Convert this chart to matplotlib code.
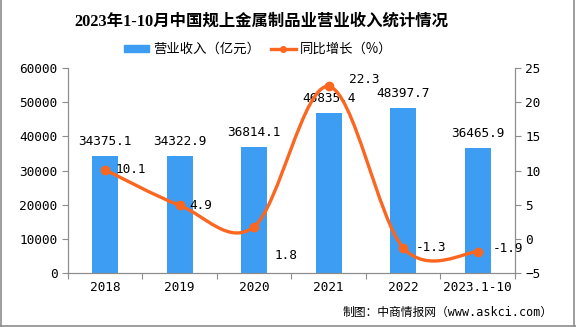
import matplotlib
matplotlib.use('Agg')
import matplotlib.pyplot as plt
from matplotlib.path import Path
from matplotlib.patches import PathPatch, Rectangle
from matplotlib.lines import Line2D

# 数据
years = ['2018', '2019', '2020', '2021', '2022', '2023.1-10']
revenue = [34375.1, 34322.9, 36814.1, 46835.4, 48397.7, 36465.9]
growth = [10.1, 4.9, 1.8, 22.3, -1.3, -1.9]
# 增长率标签偏移（像素）
growth_offsets = [(10, 0), (10, 0), (20, -29), (20, 7), (13, 0), (15, 3)]

BLUE = '#3d9df2'
ORANGE = '#fb6620'
GRAY = '#8c8c8c'
NUM = ['DejaVu Sans Mono', 'Noto Sans CJK SC']
CJK = ['Noto Sans CJK SC', 'DejaVu Sans']

fig = plt.figure(figsize=(5.76, 3.27), dpi=100)
ax = fig.add_axes([0.118, 0.165, 0.776, 0.627])
ax2 = ax.twinx()

x = list(range(len(years)))
ax.bar(x, revenue, width=0.35, color=BLUE, zorder=2)
ax.set_xlim(-0.5, len(years) - 0.5)
ax.set_ylim(0, 60000)
ax.set_yticks(range(0, 60001, 10000))
ax2.set_ylim(-5, 25)
ax2.set_yticks(range(-5, 26, 5))

for xi, v in zip(x, revenue):
    ax.annotate(f'{v:.1f}', (xi, v), xytext=(0, 8), textcoords='offset pixels',
                ha='center', va='bottom', fontsize=9.2, family=NUM)

# 平滑曲线 (Catmull-Rom -> 贝塞尔)
n = len(growth)
verts = [(x[0], growth[0])]
codes = [Path.MOVETO]
for i in range(n - 1):
    p0 = (x[max(i - 1, 0)], growth[max(i - 1, 0)])
    p1 = (x[i], growth[i])
    p2 = (x[i + 1], growth[i + 1])
    p3 = (x[min(i + 2, n - 1)], growth[min(i + 2, n - 1)])
    c1 = (p1[0] + (p2[0] - p0[0]) / 6, p1[1] + (p2[1] - p0[1]) / 6)
    c2 = (p2[0] - (p3[0] - p1[0]) / 6, p2[1] - (p3[1] - p1[1]) / 6)
    verts += [c1, c2, p2]
    codes += [Path.CURVE4] * 3
ax2.add_patch(PathPatch(Path(verts, codes), facecolor='none', edgecolor=ORANGE,
                        lw=2.4, zorder=3))
ax2.plot(x, growth, 'o', color=ORANGE, ms=6, zorder=4)
for xi, v, off in zip(x, growth, growth_offsets):
    ax2.annotate(f'{v:.1f}', (xi, v), xytext=off, textcoords='offset pixels',
                 ha='left', va='center', fontsize=9.2, family=NUM)

for a in (ax, ax2):
    a.spines['top'].set_visible(False)
    for s in ('left', 'right', 'bottom'):
        a.spines[s].set_color(GRAY)
    a.tick_params(axis='y', colors=GRAY, labelcolor='black', length=4,
                  labelsize=9.2, width=0.8)
    for lab in a.get_yticklabels():
        lab.set_family(NUM)

ax.set_xticks(x)
ax.set_xticklabels(years, family=NUM, fontsize=9.2)
ax.set_xticks([i + 0.5 for i in range(-1, len(years))], minor=True)
ax.tick_params(axis='x', which='major', length=0, pad=6)
ax.tick_params(axis='x', which='minor', length=4, color=GRAY, width=0.8)

fig.text(0.453, 0.933, '2023年1-10月中国规上金属制品业营业收入统计情况', ha='center',
         va='center', fontsize=11.8, fontweight='bold',
         family=['Liberation Serif', 'Noto Sans CJK SC'])

handles = [Rectangle((0, 0), 1, 1, color=BLUE),
           Line2D([], [], color=ORANGE, lw=2.4, marker='o', ms=4)]
fig.legend(handles, ['营业收入（亿元）', '同比增长（%）'], loc='center',
           bbox_to_anchor=(0.448, 0.85), ncol=2, frameon=False,
           prop={'family': CJK, 'size': 9.6}, handlelength=1.9,
           handleheight=0.4, columnspacing=0.8, handletextpad=0.3)

fig.text(0.96, 0.045, '制图：中商情报网（www.askci.com）', ha='right', va='center',
         fontsize=8.5, family=NUM)

# 外框
fig.add_artist(Line2D([0.001, 0.001], [0, 1], transform=fig.transFigure,
                      color=GRAY, lw=1.2))
fig.add_artist(Line2D([0.997, 0.997], [0, 1], transform=fig.transFigure,
                      color=GRAY, lw=1.2))
fig.add_artist(Line2D([0, 1], [0.002, 0.002], transform=fig.transFigure,
                      color=GRAY, lw=1.2))

fig.savefig('out.png', dpi=100)
